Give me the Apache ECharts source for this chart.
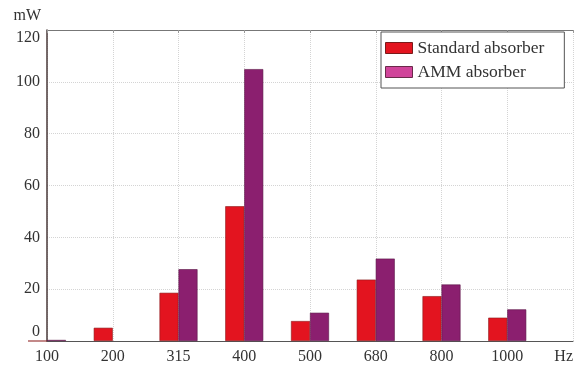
<!DOCTYPE html>
<html><head><meta charset="utf-8">
<script src="https://cdn.jsdelivr.net/npm/echarts@6/dist/echarts.min.js"></script>
<style>html,body{margin:0;padding:0;background:#fff}#c{width:576px;height:366px}</style>
</head><body><div id="c"></div>
<script>
const categories = ['100','200','315','400','500','680','800','1000','Hz'];
const standardAbsorber = [0, 5.1, 18.6, 52.0, 7.7, 23.7, 17.3, 9.0, null];
const ammAbsorber = [0.4, -0.5, 27.7, 104.9, 10.9, 31.8, 21.8, 12.2, null];
const yTicks = [0, 20, 40, 60, 80, 100, 120];

const font = 'Liberation Serif';
const chart = echarts.init(document.getElementById('c'));
chart.setOption({
  animation: false,
  textStyle: {fontFamily: font},
  grid: {left: 47, right: 0, top: 30, bottom: 25, containLabel: false},
  legend: {
    orient: 'vertical', left: 381, top: 32,
    backgroundColor: '#fff', borderColor: '#555', borderWidth: 1,
    padding: [7, 20, 7, 4], itemWidth: 27, itemHeight: 11, itemGap: 6,
    icon: 'rect',
    textStyle: {fontFamily: font, fontSize: 17.5, color: '#333'},
    data: [
      {name: 'Standard absorber', itemStyle: {color: '#e3141f', borderColor: '#7a1a1a', borderWidth: 1}},
      {name: 'AMM absorber', itemStyle: {color: '#d0449a', borderColor: '#6a2a4a', borderWidth: 1}}
    ]
  },
  xAxis: [{
    type: 'category', data: categories, boundaryGap: false,
    axisLine: {lineStyle: {color: '#555', width: 1}},
    axisTick: {show: false},
    axisLabel: {color: '#333', fontSize: 16, fontFamily: font, margin: 8, alignMaxLabel: 'right', interval: 0},
    splitLine: {show: true, lineStyle: {color: '#d4d4d4', type: 'dotted'}}
  }, {
    type: 'category', data: categories, boundaryGap: false, position: 'top',
    axisLine: {lineStyle: {color: '#777', width: 1}},
    axisTick: {show: true, inside: true, length: 3, lineStyle: {color: '#999'}},
    axisLabel: {show: false}
  }],
  yAxis: {
    type: 'value', min: 0, max: 120, interval: 20,
    name: 'mW', nameLocation: 'end', nameGap: 6,
    nameTextStyle: {fontFamily: font, fontSize: 16, color: '#333', align: 'right', padding: [0, 6, 0, 0]},
    axisLine: {show: true, lineStyle: {color: '#4a3a3a', width: 1.5}},
    axisTick: {show: false},
    axisLabel: {
      color: '#333', fontSize: 16, fontFamily: font, margin: 7,
      formatter: v => yTicks.indexOf(v) < 0 ? '' : (v === 120 ? '{a|120}' : v === 0 ? '{b|0}' : String(v)),
      rich: {
        a: {fontSize: 16, fontFamily: font, color: '#333', padding: [16, 0, 0, 0]},
        b: {fontSize: 16, fontFamily: font, color: '#333', padding: [0, 0, 18, 0]}
      }
    },
    splitLine: {show: true, lineStyle: {color: '#d4d4d4', type: 'dotted'}}
  },
  series: [{
    name: 'Standard absorber', type: 'bar', data: standardAbsorber, clip: true,
    barWidth: 19, barGap: '0%',
    itemStyle: {color: '#e3141f', borderColor: '#8a1a1a', borderWidth: 0.6}
  }, {
    name: 'AMM absorber', type: 'bar', data: ammAbsorber, clip: true,
    barWidth: 19, barGap: '0%',
    itemStyle: {color: '#8b1f6f', borderColor: '#5a1646', borderWidth: 0.6}
  }]
});
</script></body></html>
